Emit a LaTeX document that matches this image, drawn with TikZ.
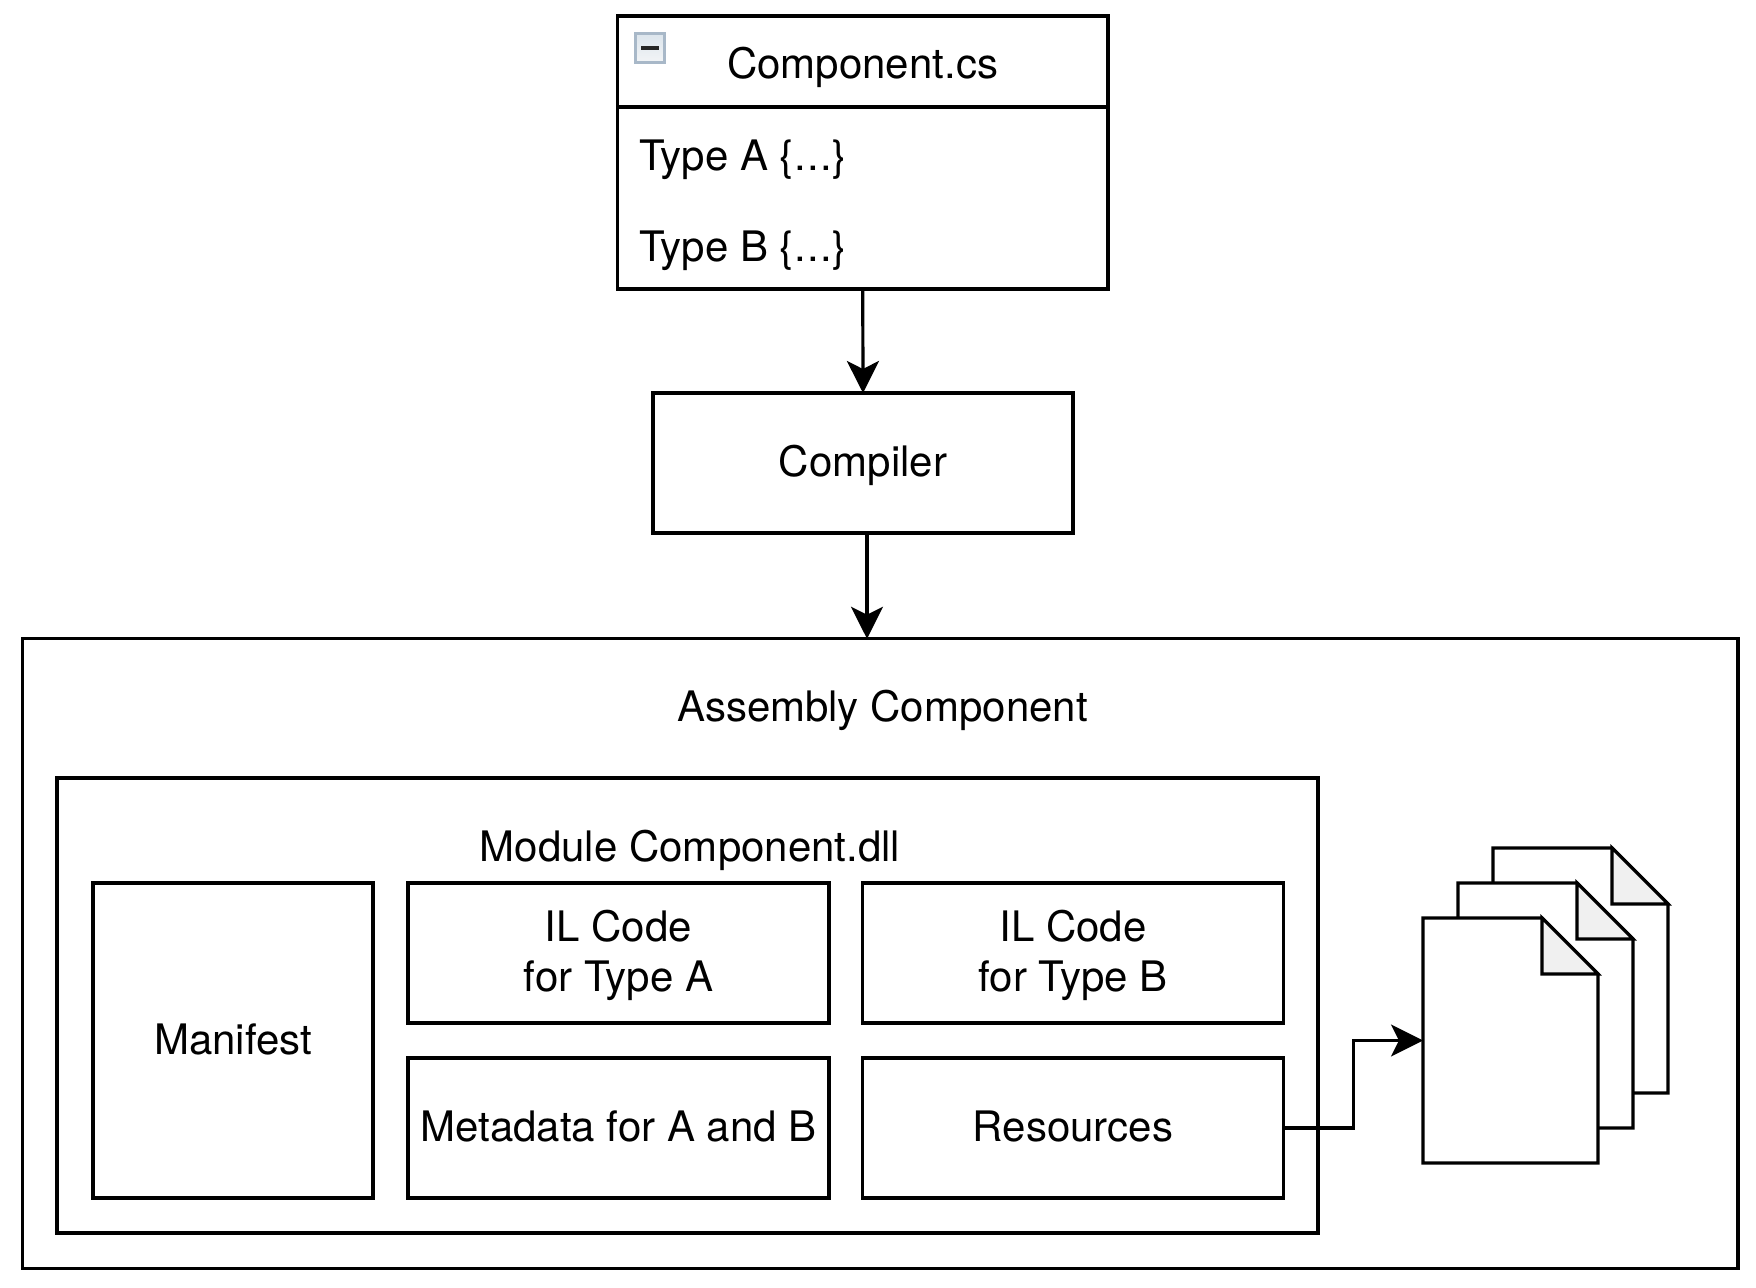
\documentclass[tikz,border=0pt]{standalone}
\usepackage{fontspec}
\setmainfont{TeX Gyre Heros}
\usetikzlibrary{arrows.meta, positioning, shadings}
\definecolor{foldgray}{HTML}{F0F0F0}
\definecolor{iconedge}{HTML}{A8B8C8}
\definecolor{icontop}{HTML}{DCE5EC}
\definecolor{iconbottom}{HTML}{F2F4F6}
\newcommand{\bodydots}{\{\kern.5pt.\kern.5pt.\kern.5pt.\kern.5pt\}}
\tikzset{
    boxline/.style={draw=black, line width=1.6pt},
    plainbox/.style={boxline, rectangle, outer sep=0pt, inner sep=0pt, align=center, fill=white, text height=16.3pt, text depth=2.7pt},
    twolines/.style={text height=41.5pt, text depth=2.7pt},
    label/.style={inner sep=0pt, align=left, text height=16.3pt, text depth=2.7pt},
    linkline/.style={boxline, -{Stealth[length=16pt, width=16pt, inset=4pt]}},
    pagenode/.style={rectangle, outer sep=0pt, inner sep=0pt, minimum width=87.5pt, minimum height=122.5pt},
    docpage/.pic={
        \node[pagenode] (-box) {};
        \draw[boxline, fill=white] (-87.5,-122.5) -- (31.5,-122.5) -- (87.5,-66.5) -- (87.5,122.5) -- (-87.5,122.5) -- cycle;
        \draw[boxline, fill=foldgray] (31.5,-122.5) -- (87.5,-66.5) -- (31.5,-66.5) -- cycle;
    }
}
\begin{document}
\begin{tikzpicture}[
        x=0.5pt, y=-0.5pt,
        every node/.append style={font=\fontsize{21}{25.2}\selectfont},
    ]
    \useasboundingbox (0,0) rectangle (1756,1288);

    % source file
    \node[plainbox, minimum width=245.25pt, minimum height=45.5pt] (header) at (862.75,61.5) {};
    \node[plainbox, minimum width=245.25pt, minimum height=91pt, below=0pt of header] (types) {};
    \node[label] (csname) at (862.5,65) {Component.cs};
    \node[label, anchor=west] (typea) at (639,157) {Type A \bodydots};
    \node[label, anchor=west] (typeb) at (639,247.5) {Type B \bodydots};
    \node[rectangle, draw=iconedge, line width=1.2pt, top color=icontop, bottom color=iconbottom, minimum size=14.5pt, inner sep=0pt] (icon) at (650,48) {};
    \draw[line width=1.6pt, black!85] ([xshift=-4.5pt]icon.center) -- ([xshift=4.5pt]icon.center);

    \node[plainbox, minimum width=210pt, minimum height=70pt] (compiler) at (863,463) {Compiler};

    % assembly
    \node[plainbox, minimum width=857.75pt, minimum height=314.75pt] (assembly) at (880.25,953.5) {};
    \node[label] (asmlabel) at (882.5,708) {Assembly Component};
    \node[plainbox, minimum width=630.5pt, minimum height=227.5pt] (module) at (687.5,1005.5) {};
    \node[label] (modlabel) at (690,848) {Module Component.dll};

    \node[plainbox, minimum width=140pt, minimum height=157.5pt] (manifest) at (233,1040.5) {Manifest};
    \node[plainbox, twolines, minimum width=210.5pt, minimum height=70pt] (ilcodea) at (618.5,953) {IL Code\\for Type A};
    \node[plainbox, minimum width=210.5pt, minimum height=70pt, below=17.5pt of ilcodea] (metadata) {Metadata for A and B};
    \node[plainbox, twolines, minimum width=210.5pt, minimum height=70pt, right=16.75pt of ilcodea] (ilcodeb) {IL Code\\for Type B};
    \node[plainbox, minimum width=210.5pt, minimum height=70pt, below=17.5pt of ilcodeb] (resources) {Resources};

    % resource files
    \foreach \pagename/\dx in {back/70, middle/35, front/0} {
        \pic (\pagename) at (1510.5+\dx,1040.5-\dx) {docpage};
    }

    \draw[linkline] (types.south) -- (compiler.north);
    \draw[linkline] ([xshift=2pt]compiler.south) -- ([xshift=2pt]compiler.south |- assembly.north);
    \draw[linkline] (resources.east) -- ++(35pt,0) |- (front-box.west);
\end{tikzpicture}
\end{document}
